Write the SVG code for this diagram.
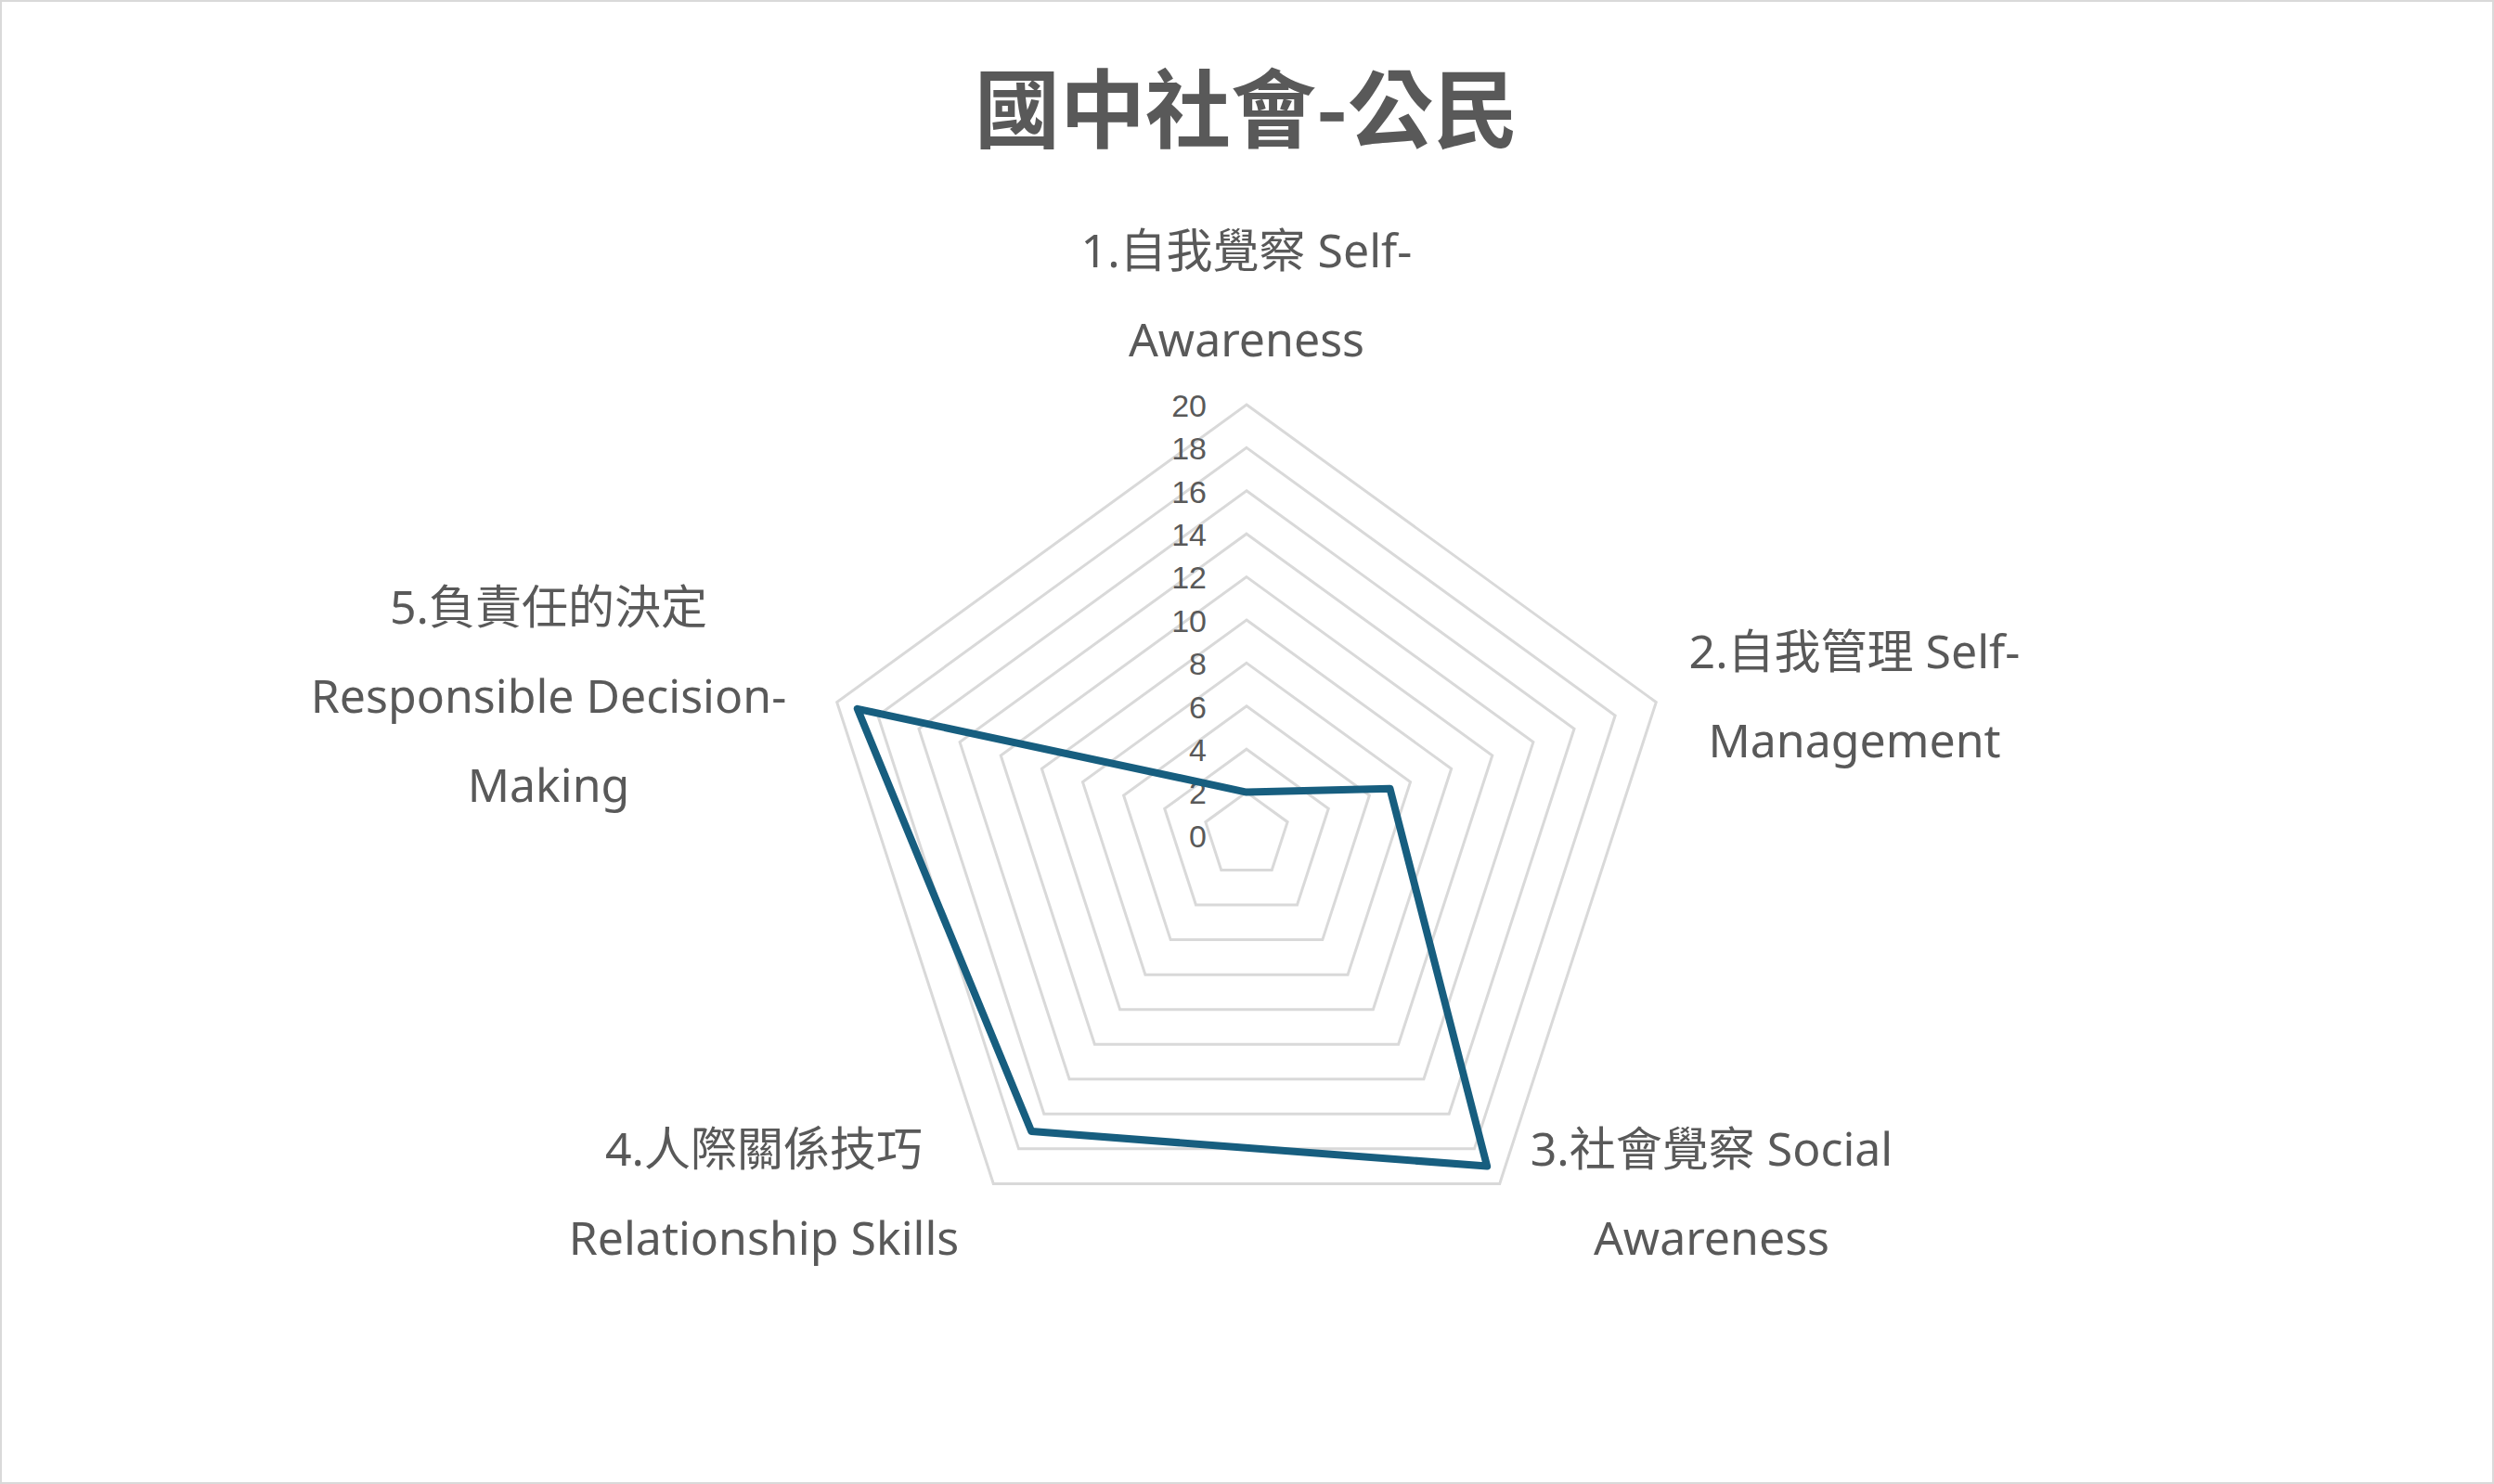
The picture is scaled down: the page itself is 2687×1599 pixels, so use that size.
<svg xmlns="http://www.w3.org/2000/svg" xmlns:xlink="http://www.w3.org/1999/xlink" width="2687" height="1599" viewBox="0 0 2687 1599">
<style>
.ring{fill:none;stroke:#d9d9d9;stroke-width:3}
.tick{font-family:"Liberation Sans",Arial,sans-serif;font-size:34px;fill:#595959;text-anchor:end}
.cat{font-family:"Noto Sans","Noto Sans CJK TC",sans-serif;font-size:50px;fill:#595959;text-anchor:middle}
.title{font-family:"Noto Sans CJK TC",sans-serif;font-size:92px;font-weight:bold;fill:#595959;text-anchor:middle}
</style>
<defs>
<polygon id="pent" points="0,-1 0.95106,-0.30902 0.58779,0.80902 -0.58779,0.80902 -0.95106,-0.30902" class="ring" vector-effect="non-scaling-stroke"/>
</defs>
<rect x="1" y="1" width="2685" height="1597" fill="#ffffff" stroke="#d9d9d9" stroke-width="2"/>
<text class="title" x="1343" y="152">國中社會-公民</text>
<g id="grid">
<use xlink:href="#pent" transform="translate(1343 900) scale(46.4)"/>
<use xlink:href="#pent" transform="translate(1343 900) scale(92.8)"/>
<use xlink:href="#pent" transform="translate(1343 900) scale(139.2)"/>
<use xlink:href="#pent" transform="translate(1343 900) scale(185.6)"/>
<use xlink:href="#pent" transform="translate(1343 900) scale(232)"/>
<use xlink:href="#pent" transform="translate(1343 900) scale(278.4)"/>
<use xlink:href="#pent" transform="translate(1343 900) scale(324.8)"/>
<use xlink:href="#pent" transform="translate(1343 900) scale(371.2)"/>
<use xlink:href="#pent" transform="translate(1343 900) scale(417.6)"/>
<use xlink:href="#pent" transform="translate(1343 900) scale(464)"/>
</g>
<g id="ticks">
<text class="tick" x="1300" y="449">20</text>
<text class="tick" x="1300" y="495">18</text>
<text class="tick" x="1300" y="542">16</text>
<text class="tick" x="1300" y="588">14</text>
<text class="tick" x="1300" y="634">12</text>
<text class="tick" x="1300" y="681">10</text>
<text class="tick" x="1300" y="727">8</text>
<text class="tick" x="1300" y="774">6</text>
<text class="tick" x="1300" y="820">4</text>
<text class="tick" x="1300" y="866">2</text>
<text class="tick" x="1300" y="913">0</text>
</g>
<g id="connectors">
<polygon points="1343,853.6 1497.5,849.8 1602.1,1256.6 1111.2,1219.1 923.8,763.8" fill="none" stroke="#175e7f" stroke-width="8" stroke-linejoin="round"/>
</g>
<g id="cat1"><text class="cat" x="1343" y="288">1.自我覺察 Self-</text><text class="cat" x="1343" y="384">Awareness</text></g>
<g id="cat2"><text class="cat" x="1998" y="720">2.自我管理 Self-</text><text class="cat" x="1998" y="816">Management</text></g>
<g id="cat3"><text class="cat" x="1844" y="1256">3.社會覺察 Social</text><text class="cat" x="1844" y="1352">Awareness</text></g>
<g id="cat4"><text class="cat" x="823" y="1256">4.人際關係技巧</text><text class="cat" x="823" y="1352">Relationship Skills</text></g>
<g id="cat5"><text class="cat" x="591" y="672">5.負責任的決定</text><text class="cat" x="591" y="768">Responsible Decision-</text><text class="cat" x="591" y="864">Making</text></g>
</svg>
